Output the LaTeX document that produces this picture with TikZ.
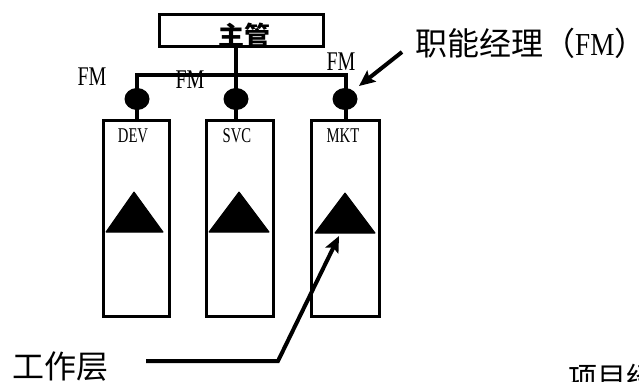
\documentclass[tikz,border=0pt]{standalone}
\usepackage{fontspec}
\usepackage{graphicx}
\newfontfamily\cjk{Noto Sans CJK SC}
\newfontfamily\lat{Liberation Serif}
\usetikzlibrary{arrows.meta,shapes.geometric}
\begin{document}
\begin{tikzpicture}[x=1pt,y=-1pt,
  colbox/.style={draw, line width=3pt, inner sep=0pt, minimum height=196pt},
  topbox/.style={draw, line width=3pt, inner sep=0pt, minimum width=164pt, minimum height=32pt},
  bar/.style={line width=4pt},
  fmdot/.style={ellipse, fill=black, minimum width=25pt, minimum height=22pt, inner sep=0pt},
  tri/.style={fill=black, draw=black, line width=1pt, line join=round},
  fmlab/.style={inner sep=0pt, font=\lat\fontsize{27}{27}\selectfont},
  collab/.style={inner sep=0pt, font=\lat\fontsize{21}{21}\selectfont},
  cjklab/.style={inner sep=0pt, anchor=west},
  pointer/.style={line width=4pt, -{Stealth[length=16pt,width=14pt,inset=3pt]}}
]
\path[use as bounding box] (0,0) rectangle (639,382);
\clip (0,0) rectangle (639,382);

% top box
\node[topbox] (top) at (241.5,30.5) {};
\node[inner sep=0pt, font=\cjk\bfseries\fontsize{26}{26}\selectfont] (toplab) at (244,36) {主管};

% columns
\node[colbox, minimum width=66pt] (dev) at (136,218.5) {};
\node[colbox, minimum width=67pt] (svc) at (240,218.5) {};
\node[colbox, minimum width=68pt] (mkt) at (345.5,218.5) {};
\node[collab] (devlab) at (133,136) {\scalebox{0.7}[1]{DEV}};
\node[collab] (svclab) at (237,136) {\scalebox{0.7}[1]{SVC}};
\node[collab] (mktlab) at (343,136) {\scalebox{0.7}[1]{MKT}};

% bar and stems
\coordinate (barL) at (137,75);
\coordinate (barM) at (236,75);
\coordinate (barR) at (346,75);
\draw[bar] (barM |- top.south) -- (barM);
\draw[bar, line cap=rect] (barL) -- (barR);
\draw[bar] (barL) -- (barL |- dev.north);
\draw[bar] (barM) -- (barM |- svc.north);
\draw[bar] (barR) -- (barR |- mkt.north);

% FM dots
\node[fmdot] (fmA) at (137,99) {};
\node[fmdot] (fmB) at (236,99) {};
\node[fmdot] (fmC) at (345,99) {};

% FM labels
\node[fmlab] (fmlA) at (92,77) {\scalebox{0.74}[1]{FM}};
\node[fmlab] (fmlB) at (190,80) {\scalebox{0.74}[1]{FM}};
\node[fmlab] (fmlC) at (341,62) {\scalebox{0.74}[1]{FM}};

% triangles
\coordinate (tA1) at (134,192); \coordinate (tA2) at (106,232); \coordinate (tA3) at (163,232);
\coordinate (tB1) at (239,192); \coordinate (tB2) at (209,232); \coordinate (tB3) at (269,232);
\coordinate (tC1) at (345,193); \coordinate (tC2) at (315,233); \coordinate (tC3) at (375,233);
\draw[tri] (tA1) -- (tA2) -- (tA3) -- cycle;
\draw[tri] (tB1) -- (tB2) -- (tB3) -- cycle;
\draw[tri] (tC1) -- (tC2) -- (tC3) -- cycle;

% labels
\node[cjklab, font=\cjk\fontsize{32}{32}\selectfont] (fmtitle) at (415,43) {职能经理（{\lat\fontsize{32}{32}\selectfont\scalebox{0.85}[1]{FM}}\makebox[0.5em][l]{）}};
\node[cjklab, font=\cjk\fontsize{32}{32}\selectfont] (work) at (12,367) {工作层};
\node[cjklab, font=\cjk\fontsize{29}{29}\selectfont] (pm) at (568,377) {项目经};

% pointers
\coordinate (fmstart) at (402,52);
\coordinate (fmtip) at (359,86);
\draw[pointer] (fmstart) -- (fmtip);

\coordinate (wstart) at (146,361);
\coordinate (wbend) at (278,361);
\coordinate (wtip) at (339,236);
\draw[pointer, line join=miter] (wstart) -- (wbend) -- (wtip);
\end{tikzpicture}
\end{document}
